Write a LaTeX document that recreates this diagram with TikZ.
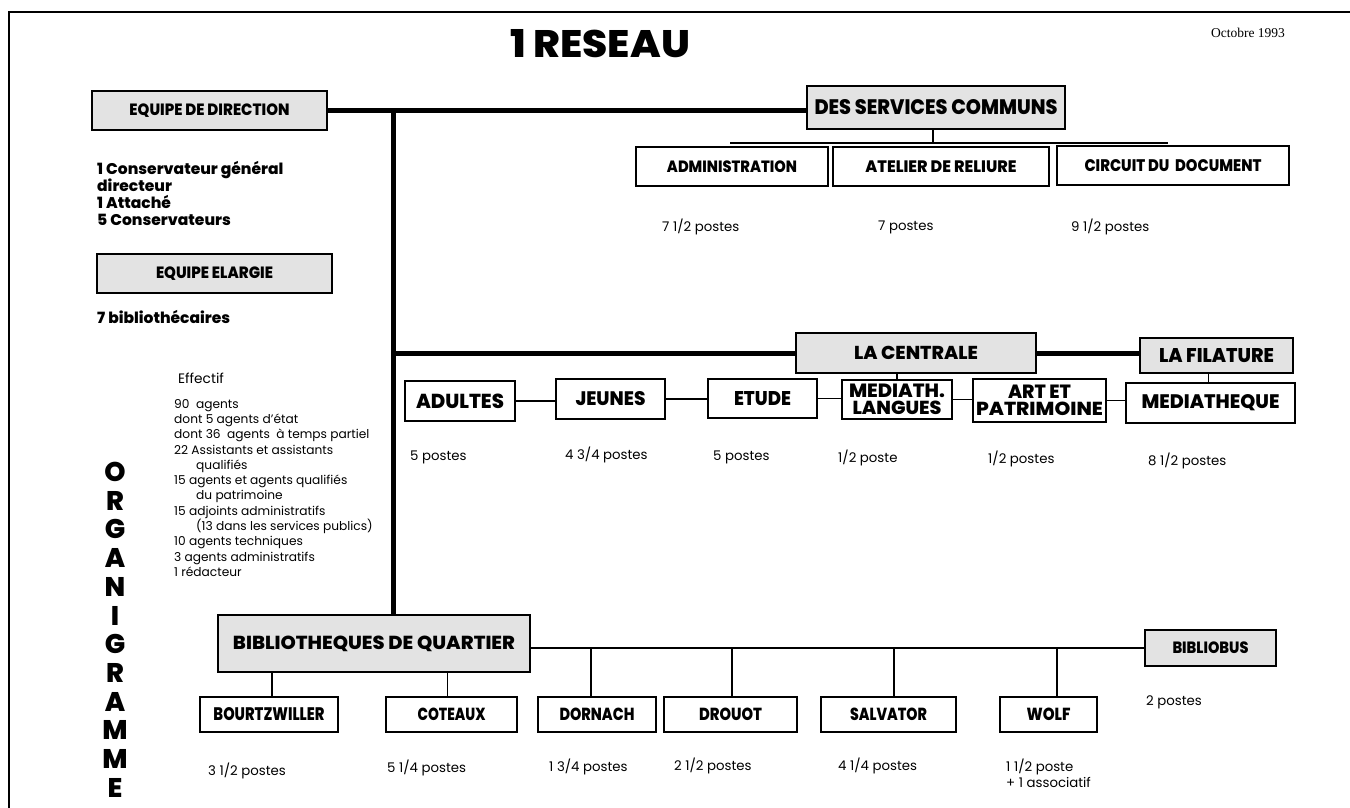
\documentclass[tikz,border=0pt]{standalone}
\usepackage{fontspec}
\setmainfont{Poppins}[BoldFont={Poppins ExtraBold}]
\newfontfamily\datefont{Liberation Serif}
\usetikzlibrary{calc}
\newcommand{\fitb}[3]{\resizebox{#1}{#2}{#3}}
\begin{document}
\begin{tikzpicture}[x=1pt,y=-1pt,
 box/.style={draw, line width=1.3pt, inner sep=0pt, align=center, font=\bfseries\fontsize{12}{13}\selectfont},
 gbox/.style={box, fill=black!11},
 sz/.style 2 args={minimum width=#1pt, minimum height=#2pt},
 post/.style={anchor=west, inner sep=0pt, align=left, font=\fontsize{13.3}{15.5}\selectfont},
 link/.style={line width=1.2pt},
 heavy/.style={line width=5pt},
 framel/.style={line width=1.4pt}]
\useasboundingbox (0,0) rectangle (1350,808);
% frame
\coordinate (fa) at (9,808);
\coordinate (fb) at (9,12);
\coordinate (fc) at (1350,12);
\draw[framel] (fa) -- (fb) -- (fc);
% title
\node[inner sep=0pt] (title) at (600,44) {\fitb{180pt}{28pt}{\bfseries 1 RESEAU}};
\node[inner sep=0pt] (date) at (1248,33) {\datefont\fontsize{13.5}{15}\selectfont Octobre 1993};
% boxes
\node[gbox, sz={235}{39}] (dir) at (209.5,110.5) {\fitb{160pt}{11.7pt}{EQUIPE DE DIRECTION}};
\node[gbox, sz={258}{43}] (dsc) at (936,107.5) {\fitb{243pt}{15pt}{DES SERVICES COMMUNS}};
\node[box, sz={192}{39}] (adm) at (732,166.5) {\fitb{130pt}{11.7pt}{ADMINISTRATION}};
\node[box, sz={216}{39}] (atl) at (941,166.5) {\fitb{151pt}{11.7pt}{ATELIER DE RELIURE}};
\node[box, sz={232}{39}] (cir) at (1173,165.5) {\fitb{177pt}{12pt}{CIRCUIT DU\ \ DOCUMENT}};
\node[gbox, sz={235}{39}] (ela) at (214.5,273.5) {\fitb{117pt}{11.7pt}{EQUIPE ELARGIE}};
\node[gbox, sz={240}{40}] (cen) at (916,353) {\fitb{124pt}{13.3pt}{LA CENTRALE}};
\node[gbox, sz={153}{35}] (fil) at (1216.5,355.5) {\fitb{115pt}{14pt}{LA FILATURE}};
\node[box, sz={110}{40}] (adu) at (460,401) {\fitb{88pt}{14.5pt}{ADULTES}};
\node[box, sz={109}{40}] (jeu) at (610.5,399) {\fitb{70pt}{14pt}{JEUNES}};
\node[box, sz={109}{39}] (etu) at (762.5,398.5) {\fitb{57pt}{14pt}{ETUDE}};
\node[box, sz={110}{39}, font=\bfseries\fontsize{12}{16.5}\selectfont] (med) at (897,399.5) {\fitb{96pt}{13.5pt}{MEDIATH.}\\\fitb{89pt}{13.5pt}{LANGUES}};
\node[box, sz={133}{43}, font=\bfseries\fontsize{12}{17.5}\selectfont] (art) at (1039.5,400.5) {\fitb{63pt}{13.5pt}{ART ET}\\\fitb{127pt}{13.5pt}{PATRIMOINE}};
\node[box, sz={169}{40}] (mdt) at (1210.5,403) {\fitb{138pt}{14pt}{MEDIATHEQUE}};
\node[gbox, sz={312}{57}] (bib) at (374,643.5) {\fitb{282pt}{13.5pt}{BIBLIOTHEQUES DE QUARTIER}};
\node[gbox, sz={131}{36}] (bus) at (1210.5,648) {\fitb{76pt}{11.7pt}{BIBLIOBUS}};
\node[box, sz={138}{35}] (bou) at (269,714.5) {\fitb{111pt}{13pt}{BOURTZWILLER}};
\node[box, sz={131}{35}] (cot) at (451.5,714.5) {\fitb{68pt}{12.5pt}{COTEAUX}};
\node[box, sz={118}{35}] (dor) at (597,714.5) {\fitb{75pt}{12.5pt}{DORNACH}};
\node[box, sz={133}{35}] (dro) at (730.5,714.5) {\fitb{63pt}{12.5pt}{DROUOT}};
\node[box, sz={135}{35}] (sal) at (888.5,714.5) {\fitb{77pt}{12.5pt}{SALVATOR}};
\node[box, sz={97}{35}] (wol) at (1048.5,714.5) {\fitb{44pt}{12.5pt}{WOLF}};
% heavy connectors
\coordinate (j1) at (393,110.5);
\draw[heavy] (dir.east) -- (dir.east -| dsc.west);
\draw[heavy] (j1) -- (j1 |- bib.north);
\draw[heavy] (j1 |- cen.west) -- (cen.west);
\draw[heavy] (cen.east) -- (cen.east -| fil.west);
% services communs
\coordinate (sc1) at (730,143);
\coordinate (sc2) at (1168,143);
\draw[link] (sc1) -- (sc2);
\draw[link] ([xshift=-3pt]dsc.south) -- ([xshift=-3pt]dsc.south |- sc1);
% centrale chain
\draw[link] (adu.east) -- (adu.east -| jeu.west);
\draw[link] (jeu.east) -- (jeu.east -| etu.west);
\draw[link] (etu.east) -- (etu.east -| med.west);
\draw[link] (med.east) -- (med.east -| art.west);
\draw[link] (art.east) -- (art.east -| mdt.west);
\draw[link] (med.north) -- (med.north |- cen.south);
\draw[link] ([xshift=-2pt]mdt.north) -- ([xshift=-2pt]mdt.north |- fil.south);
% quartier
\draw[link] (bib.east |- bus.west) -- (bus.west);
\draw[link] ([xshift=3pt]bou.north) -- ([xshift=3pt]bou.north |- bib.south);
\draw[link] ([xshift=-4pt]cot.north) -- ([xshift=-4pt]cot.north |- bib.south);
\draw[link] ([xshift=-6pt]dor.north) -- ([xshift=-6pt]dor.north |- bus.west);
\draw[link] ([xshift=1.5pt]dro.north) -- ([xshift=1.5pt]dro.north |- bus.west);
\draw[link] ([xshift=5.5pt]sal.north) -- ([xshift=5.5pt]sal.north |- bus.west);
\draw[link] ([xshift=8.5pt]wol.north) -- ([xshift=8.5pt]wol.north |- bus.west);
% postes
\node[post] (pa) at (662,227) {7 1/2 postes};
\node[post] (pb) at (878,227) {7 postes};
\node[post] (pc) at (1071,227) {9 1/2 postes};
\node[post] (pd) at (410,457) {5 postes};
\node[post] (pe) at (565,455) {4 3/4 postes};
\node[post] (pf) at (713,457) {5 postes};
\node[post] (pg) at (838,458) {1/2 poste};
\node[post] (ph) at (988,459) {1/2 postes};
\node[post] (pi) at (1148,461) {8 1/2 postes};
\node[post] (pj) at (208,771) {3 1/2 postes};
\node[post] (pk) at (387,768) {5 1/4 postes};
\node[post] (pl) at (549,767) {1 3/4 postes};
\node[post] (pm) at (674,766) {2 1/2 postes};
\node[post] (pn) at (838,766) {4 1/4 postes};
\node[post] (po) at (1006,773.5) {1 1/2 poste\\+ 1 associatif};
\node[post] (pp) at (1146,702) {2 postes};
% left texts
\node[anchor=north west, inner sep=0pt, align=left, font=\bfseries\fontsize{15.5}{17}\selectfont] (cons) at (97,161) {1 Conservateur général\\directeur\\1 Attaché\\5 Conservateurs};
\node[anchor=west, inner sep=0pt, font=\bfseries\fontsize{15.5}{16}\selectfont] (bibl) at (97,317) {7 bibliothécaires};
\node[anchor=west, inner sep=0pt, font=\fontsize{13.7}{15}\selectfont] (eff) at (178,378) {Effectif};
\node[anchor=north west, inner sep=0pt, align=left, font=\fontsize{12.2}{15.3}\selectfont] (list) at (174,399) {90\ \ agents\\dont 5 agents d'état\\dont 36\ \ agents\ \ à temps partiel\\22 Assistants et assistants\\\hspace*{22pt}qualifiés\\15 agents et agents qualifiés\\\hspace*{22pt}du patrimoine\\15 adjoints administratifs\\\hspace*{22pt}(13 dans les services publics)\\10 agents techniques\\3 agents administratifs\\1 rédacteur};
% ORGANIGRAMME
\foreach \l [count=\i] in {O,R,G,A,N,I,G,R,A,M,M,E}
  \node[inner sep=0pt, font=\bfseries\fontsize{27}{28}\selectfont] (org\i) at (115,{472+(\i-1)*28.7}) {\l};
\end{tikzpicture}
\end{document}
